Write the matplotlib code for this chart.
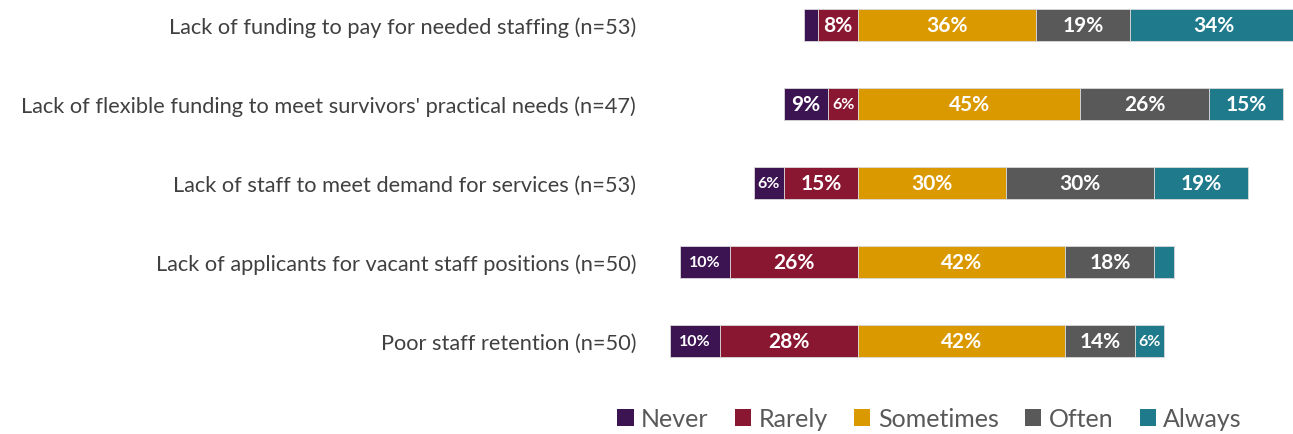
import matplotlib.pyplot as plt
from matplotlib.patches import Patch

plt.rcParams['font.family'] = ['Lato', 'DejaVu Sans']

categories = [
    "Lack of funding to pay for needed staffing (n=53)",
    "Lack of flexible funding to meet survivors' practical needs (n=47)",
    "Lack of staff to meet demand for services (n=53)",
    "Lack of applicants for vacant staff positions (n=50)",
    "Poor staff retention (n=50)",
]
responses = ["Never", "Rarely", "Sometimes", "Often", "Always"]
never = [3, 9, 6, 10, 10]
rarely = [8, 6, 15, 26, 28]
sometimes = [36, 45, 30, 42, 42]
often = [19, 26, 30, 18, 14]
always = [34, 15, 19, 4, 6]

colors = ["#3d1452", "#8a1731", "#db9900", "#595959", "#1f7a8c"]

fig = plt.figure(figsize=(12.93, 4.35), dpi=100)
ax = fig.add_axes([650 / 1293, 1 - 380 / 435, (1293 - 650) / 1293, 380 / 435])

series = [never, rarely, sometimes, often, always]
for i, cat in enumerate(categories):
    vals = [s[i] for s in series]
    # bars diverge from the start of "Sometimes"
    left = -(vals[0] + vals[1])
    for j, v in enumerate(vals):
        ax.barh(i, v, left=left, height=0.405, color=colors[j],
                edgecolor="#d9d9d9", linewidth=0.6)
        if v >= 5:
            small = v < 7 or (v < 12 and v >= 10)
            ax.text(left + v / 2, i, f"{v}%", ha="center", va="center",
                    color="white", fontweight="bold",
                    fontsize=11.5 if small else 15)
        left += v

ax.set_xlim(-42.1, 88.06)
ax.set_ylim(4.48, -0.33)
ax.set_yticks(range(len(categories)))
ax.set_yticklabels(categories, fontsize=15.7, color="#404040")
ax.tick_params(axis="y", length=0, pad=10)
ax.set_xticks([])
for sp in ax.spines.values():
    sp.set_visible(False)

handles = [Patch(facecolor=c, edgecolor="none") for c in colors]
fig.legend(handles, responses, loc="center right", ncol=5, frameon=False,
           bbox_to_anchor=(1252 / 1293, 1 - 420 / 435), fontsize=18,
           labelcolor="#595959", handlelength=0.65, handleheight=0.65,
           handletextpad=0.3, columnspacing=1.05, borderaxespad=0)

fig.savefig("out.png", dpi=100)
